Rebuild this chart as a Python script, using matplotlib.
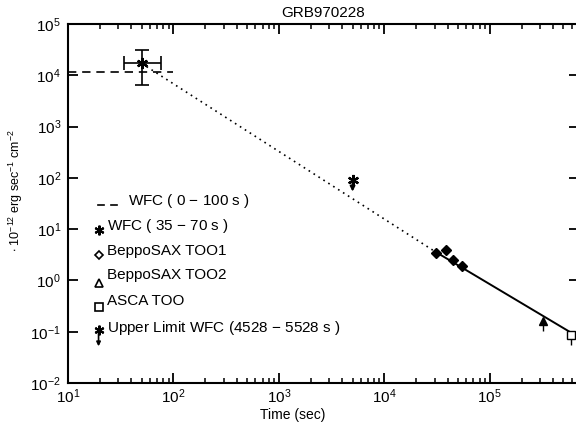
#!/usr/bin/env python
# GRB970228 X-ray afterglow light curve

import numpy as np
import matplotlib
matplotlib.use('Agg')
import matplotlib.pyplot as plt
import matplotlib.ticker as ticker

plt.rcParams['font.family'] = ['Liberation Sans', 'DejaVu Sans']
plt.rcParams['mathtext.fontset'] = 'custom'
plt.rcParams['mathtext.rm'] = 'Liberation Sans'

# Data
wfc_long_t = [10, 100]              # WFC 0 - 100 s
wfc_long_f = [1.14e4, 1.14e4]

wfc_short_t = [50]                  # WFC 35 - 70 s
wfc_short_f = [1.7e4]
wfc_short_tlo = [34]
wfc_short_thi = [76]
wfc_short_flo = [6.4e3]
wfc_short_fhi = [3.1e4]

ul_t = [5000]                       # upper limit WFC 4528 - 5528 s
ul_f = [90]
ul_to = [54]

sax1_t = [3.1e4, 3.85e4, 4.5e4, 5.5e4]
sax1_f = [3.5, 4.0, 2.5, 1.95]
sax1_flo = [3.2, 3.4, 2.2, 1.6]
sax1_fhi = [3.8, 4.5, 2.8, 2.2]

sax2_t = [3.2e5]
sax2_f = [0.16]
sax2_flo = [0.105]
sax2_fhi = [0.17]

asca_t = [5.9e5]
asca_f = [0.088]
asca_flo = [0.055]
asca_fhi = [0.105]

fit_dot_t = [50, 3.0e4]
fit_dot_f = [1.7e4, 3.7]
fit_sol_t = [3.0e4, 7e5]
fit_sol_f = [3.7, 0.078]

legend_labels = ['WFC ( 0 $-$ 100 s )', 'WFC ( 35 $-$ 70 s )', 'BeppoSAX TOO1',
                 'BeppoSAX TOO2', 'ASCA TOO', 'Upper Limit WFC (4528 $-$ 5528 s )']


def yerr(f, lo, hi):
    f = np.array(f)
    return [f - np.array(lo), np.array(hi) - f]


fig = plt.figure(figsize=(5.76, 4.28), dpi=100)
ax = fig.add_axes([0.118, 0.105, 0.887, 0.839])
ax.set_xscale('log')
ax.set_yscale('log')
ax.set_xlim(10, 7e5)
ax.set_ylim(1e-2, 1e5)

star = (6, 2, 0)
k = 'black'

# model lines
ax.plot(wfc_long_t, wfc_long_f, ls=(0, (5, 3.5)), color=k, lw=1.2)
ax.plot(fit_dot_t, fit_dot_f, ls=(0, (1, 2.5)), color=k, lw=1.2)
ax.plot(fit_sol_t, fit_sol_f, ls='-', color=k, lw=1.4)

# WFC 35-70 s
t = np.array(wfc_short_t)
ax.errorbar(wfc_short_t, wfc_short_f,
            xerr=[t - np.array(wfc_short_tlo), np.array(wfc_short_thi) - t],
            yerr=yerr(wfc_short_f, wfc_short_flo, wfc_short_fhi),
            fmt='none', ecolor=k, elinewidth=1.2, capsize=5, capthick=1.2)
ax.plot(wfc_short_t, wfc_short_f, marker=star, ms=8, mew=1.6, color=k, ls='none')

# upper limit
ax.plot(ul_t, ul_f, marker=star, ms=8, mew=1.6, color=k, ls='none')
for x, y0, y1 in zip(ul_t, ul_f, ul_to):
    ax.annotate('', xy=(x, y1), xytext=(x, y0),
                arrowprops=dict(arrowstyle='-|>', color=k, lw=1.4,
                                mutation_scale=7, shrinkA=0, shrinkB=0))

# BeppoSAX / ASCA
ax.errorbar(sax1_t, sax1_f, yerr=yerr(sax1_f, sax1_flo, sax1_fhi),
            fmt='D', color=k, ms=5, elinewidth=1.0, capsize=0)
ax.errorbar(sax2_t, sax2_f, yerr=yerr(sax2_f, sax2_flo, sax2_fhi),
            fmt='^', color=k, ms=6, elinewidth=1.0, capsize=0)
ax.errorbar(asca_t, asca_f, yerr=yerr(asca_f, asca_flo, asca_fhi),
            fmt='s', mfc='white', mec=k, color=k, ms=6, mew=1.0,
            elinewidth=1.0, capsize=0)

# hand-made legend
fs = 11
ax.plot([19.3, 22], [29, 29], color=k, lw=1.2)
ax.plot([25.5, 29], [29, 29], color=k, lw=1.2)
ax.text(37, 36, legend_labels[0], fontsize=fs, va='center')
ax.plot([19.5], [9.8], marker=star, ms=7, mew=1.5, color=k)
ax.text(23.5, 11.3, legend_labels[1], fontsize=fs, va='center')
ax.plot([19.5], [3.07], marker='D', ms=4.5, mfc='white', mec=k, mew=1.2)
ax.text(23.5, 3.67, legend_labels[2], fontsize=fs, va='center')
ax.plot([19.5], [0.91], marker='^', ms=6, mfc='white', mec=k, mew=1.2)
ax.text(23.5, 1.25, legend_labels[3], fontsize=fs, va='center')
ax.plot([19.5], [0.31], marker='s', ms=6, mfc='white', mec=k, mew=1.2)
ax.text(23.5, 0.39, legend_labels[4], fontsize=fs, va='center')
ax.plot([19.5], [0.106], marker=star, ms=7, mew=1.5, color=k)
ax.annotate('', xy=(19.5, 0.052), xytext=(19.5, 0.106),
            arrowprops=dict(arrowstyle='-|>', color=k, lw=1.2,
                            mutation_scale=6, shrinkA=0, shrinkB=0))
ax.text(23.5, 0.12, legend_labels[5], fontsize=fs, va='center')

# axes styling
for s in ax.spines.values():
    s.set_linewidth(1.5)
ax.xaxis.set_major_locator(ticker.LogLocator(base=10, numticks=10))
ax.xaxis.set_minor_locator(ticker.LogLocator(base=10, subs=np.arange(2, 10), numticks=10))
ax.yaxis.set_major_locator(ticker.LogLocator(base=10, numticks=10))
ax.yaxis.set_minor_locator(ticker.NullLocator())
ax.tick_params(which='both', direction='in', top=True, right=True, labelsize=11)
ax.tick_params(which='major', length=7, width=1.3, pad=5)
ax.tick_params(axis='x', which='major', pad=3)
ax.tick_params(which='minor', length=3.5, width=1.1)

ax.set_title('GRB970228', fontsize=11, pad=5)
ax.set_xlabel('Time (sec)', fontsize=10)
ax.xaxis.set_label_coords(0.44, -0.07)
ax.set_ylabel('$\\bullet$ 10$^{-12}$ erg sec$^{-1}$ cm$^{-2}$', fontsize=9)
ax.yaxis.set_label_coords(-0.085, 0.535)

plt.savefig('out.png', dpi=100)
